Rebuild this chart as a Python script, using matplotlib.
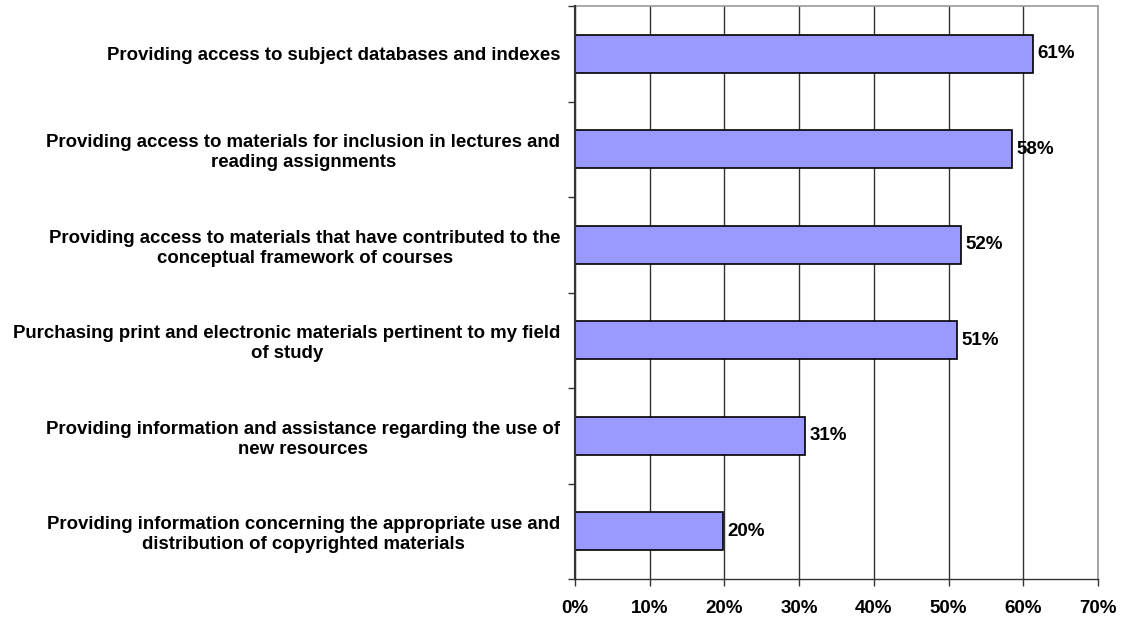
import matplotlib
matplotlib.use("Agg")
import matplotlib.pyplot as plt
import numpy as np

categories = [
    "Providing access to subject databases and indexes",
    "Providing access to materials for inclusion in lectures and\nreading assignments",
    "Providing access to materials that have contributed to the\nconceptual framework of courses",
    "Purchasing print and electronic materials pertinent to my field\nof study",
    "Providing information and assistance regarding the use of\nnew resources",
    "Providing information concerning the appropriate use and\ndistribution of copyrighted materials",
]
values = [0.613, 0.585, 0.516, 0.511, 0.308, 0.198]
labels = ["61%", "58%", "52%", "51%", "31%", "20%"]
xticks = [0, 0.1, 0.2, 0.3, 0.4, 0.5, 0.6, 0.7]
xticklabels = ["0%", "10%", "20%", "30%", "40%", "50%", "60%", "70%"]

plt.rcParams['font.family'] = ['Liberation Sans', 'DejaVu Sans']

fig = plt.figure(figsize=(11.22, 6.18), dpi=100)
ax = fig.add_axes([0.5125, 0.0631, 0.4661, 0.9269])

n = len(categories)
y = np.arange(n)[::-1]
ax.barh(y, values, height=0.4, color="#9999FF", edgecolor="black", linewidth=1.2, zorder=3)
for yi, v, l in zip(y, values, labels):
    ax.text(v + 0.006, yi, l, va="center", ha="left", fontsize=13.5, fontweight="bold", zorder=4)

ax.set_xlim(0, 0.7)
ax.set_ylim(-0.5, n - 0.5)
ax.set_xticks(xticks)
ax.set_xticklabels(xticklabels, fontsize=13.5, fontweight="bold")
ax.set_yticks(y)
ax.set_yticklabels(categories, fontsize=13.4, fontweight="bold", multialignment="center", linespacing=1.22)
ax.set_yticks(np.arange(-0.5, n, 1.0), minor=True)
ax.tick_params(axis="y", which="major", length=0, pad=10.5)
ax.tick_params(axis="y", which="minor", length=5, width=1, color="#333333", direction="out")
ax.tick_params(axis="x", which="major", length=5, width=1, color="#333333", direction="out", pad=10)

ax.grid(axis="x", color="#333333", linewidth=1, zorder=0)
for s in ["top", "right"]:
    ax.spines[s].set_color("#999999")
    ax.spines[s].set_linewidth(1.2)
ax.spines["left"].set_color("#333333")
ax.spines["left"].set_linewidth(1.5)
ax.spines["bottom"].set_color("#333333")
ax.spines["bottom"].set_linewidth(1)
ax.spines["bottom"].set_zorder(5)
ax.spines["left"].set_zorder(5)

fig.savefig("out.png", dpi=100)
